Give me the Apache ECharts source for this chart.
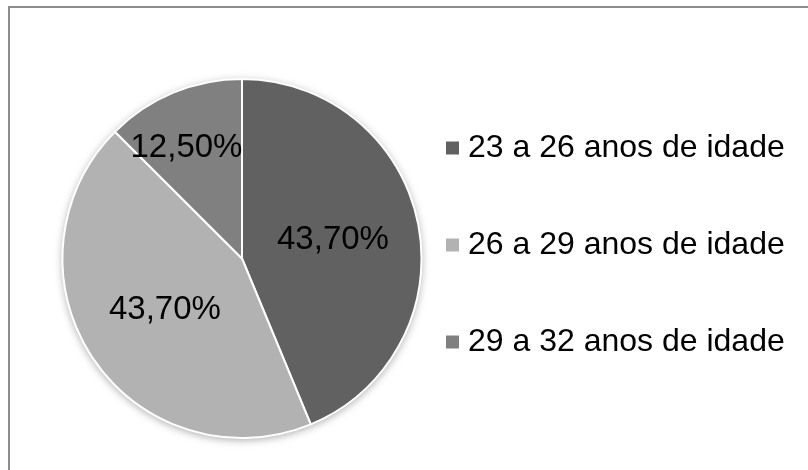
<!DOCTYPE html>
<html>
<head>
<meta charset="utf-8">
<script src="https://cdn.jsdelivr.net/npm/echarts@6/dist/echarts.min.js"></script>
<style>html,body{margin:0;padding:0;background:#fff;}#chart{width:808px;height:470px;}</style>
</head>
<body>
<div id="chart"></div>
<script>
const categories = ['23 a 26 anos de idade', '26 a 29 anos de idade', '29 a 32 anos de idade'];
const values = [43.7, 43.7, 12.5];
const colors = ['#616161', '#b2b2b2', '#808080'];
const labelOffsets = [[0, 0], [0, 0], [-20, -25]];

const chart = echarts.init(document.getElementById('chart'), null, {renderer: 'canvas'});
const fmt = v => v.toFixed(2).replace('.', ',') + '%';

chart.setOption({
  animation: false,
  backgroundColor: '#ffffff',
  color: colors,
  graphic: [{
    type: 'rect',
    shape: {x: 9, y: 7, width: 900, height: 600},
    style: {fill: 'none', stroke: '#8c8c8c', lineWidth: 2},
    z: 100
  }],
  legend: {
    orient: 'vertical',
    left: 446,
    top: 132,
    padding: 0,
    itemWidth: 13,
    itemHeight: 13,
    itemGap: 65,
    icon: 'rect',
    itemStyle: {borderWidth: 0, shadowBlur: 0},
    data: categories,
    textStyle: {fontFamily: 'Liberation Sans, Arial', fontSize: 32, color: '#000', lineHeight: 30, padding: [0, 0, 0, 4]}
  },
  series: [
    {
      type: 'pie',
      silent: true,
      center: [242, 258.5],
      radius: [0, 179.5],
      z: 1,
      label: {show: false},
      labelLine: {show: false},
      itemStyle: {color: '#ffffff', shadowBlur: 8, shadowColor: 'rgba(0,0,0,0.35)', shadowOffsetY: 2},
      data: [{value: 1, name: '__bg'}],
      legendHoverLink: false
    },
    {
      type: 'pie',
      center: [242, 258.5],
      radius: [0, 179.5],
      startAngle: 90,
      clockwise: true,
      z: 2,
      itemStyle: {borderColor: '#ffffff', borderWidth: 2},
      label: {
        show: true,
        position: 'inside',
        fontFamily: 'Liberation Sans, Arial',
        fontSize: 33,
        color: '#000',
        formatter: p => fmt(p.value)
      },
      labelLine: {show: false},
      data: categories.map((c, i) => ({name: c, value: values[i], label: {offset: labelOffsets[i]}}))
    }
  ]
});
</script>
</body>
</html>
